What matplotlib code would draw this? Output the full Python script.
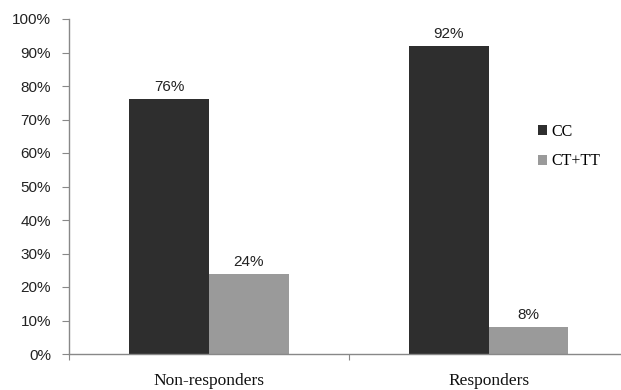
import matplotlib
matplotlib.use("Agg")
import matplotlib.pyplot as plt
import numpy as np

categories = ["Non-responders", "Responders"]
series_names = ["CC", "CT+TT"]
cc_values = [76, 92]
ct_tt_values = [24, 8]
y_ticks = [0, 10, 20, 30, 40, 50, 60, 70, 80, 90, 100]

fig = plt.figure(figsize=(6.21, 3.90), dpi=100)
W, H = 621, 390
ax = fig.add_axes([69 / W, 1 - 354 / H, (620 - 69) / W, (354 - 19) / H])

x = np.arange(len(categories))
bw = 0.285
dark = "#2e2e2e"
gray = "#9a9a9a"
b1 = ax.bar(x - bw / 2, cc_values, bw, color=dark, label=series_names[0])
b2 = ax.bar(x + bw / 2, ct_tt_values, bw, color=gray, label=series_names[1])

for bars, vals in ((b1, cc_values), (b2, ct_tt_values)):
    for r, v in zip(bars, vals):
        ax.text(r.get_x() + r.get_width() / 2, v + 1.5, f"{v}%", ha="center", va="bottom",
                fontsize=11, family="Liberation Sans", color="#222222")

ax.set_xlim(-0.5, 1.47)
ax.set_ylim(0, 100)
ax.set_yticks(y_ticks)
ax.set_yticklabels([f"{t}%" for t in y_ticks], family="Liberation Sans", fontsize=11, color="#222222")

ax.set_xticks([-0.5, 0.5])
ax.set_xticklabels([])
ax.set_xticks(x, minor=True)
ax.set_xticklabels(categories, minor=True, family="Liberation Serif", fontsize=12.5, color="#111111")
ax.tick_params(axis="x", which="minor", length=0, pad=14)
ax.tick_params(axis="x", which="major", length=4, color="#888888", direction="out")
ax.tick_params(axis="y", length=5, color="#888888", direction="out", pad=8)

for s in ["top", "right"]:
    ax.spines[s].set_visible(False)
for s in ["left", "bottom"]:
    ax.spines[s].set_color("#888888")
    ax.spines[s].set_linewidth(1.0)

leg = ax.legend(loc="upper left", bbox_to_anchor=(0.825, 0.73), frameon=False,
                prop={"family": "Liberation Serif", "size": 11.5},
                handlelength=0.55, handleheight=0.55, handletextpad=0.3, labelspacing=0.85)

fig.savefig("out.png", dpi=100)
